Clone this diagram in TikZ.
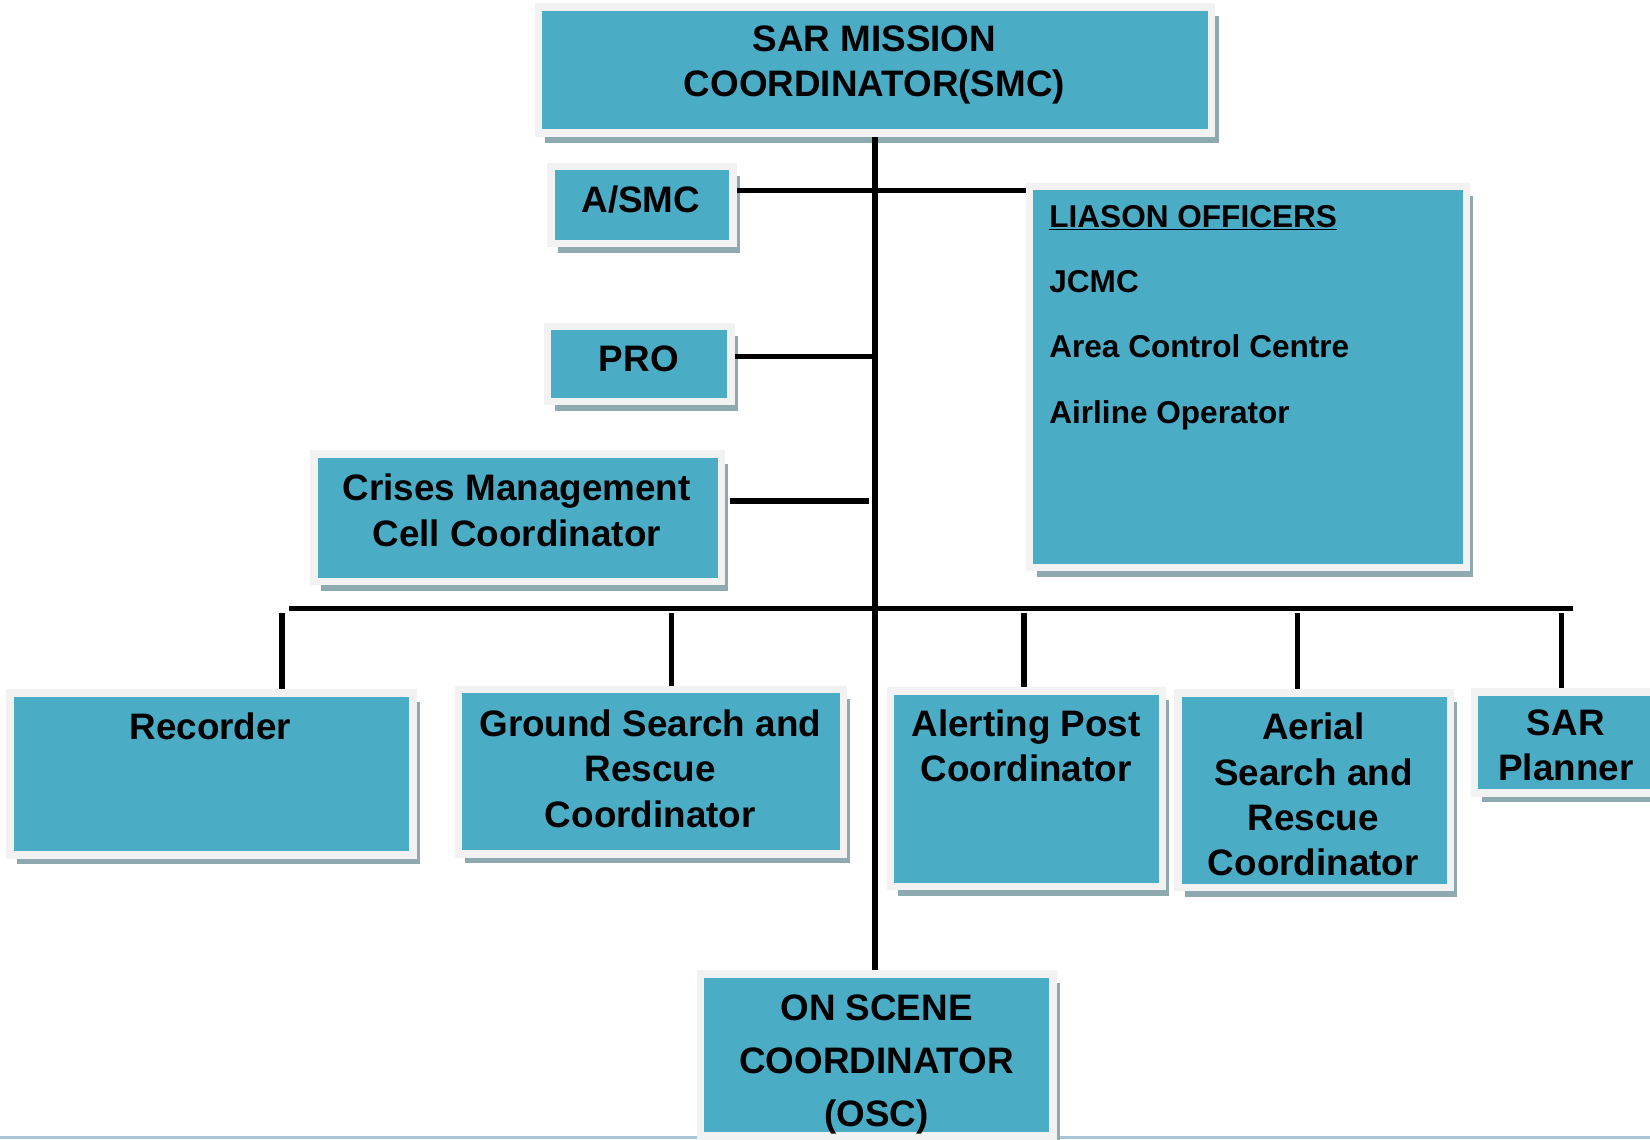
\documentclass[tikz,border=0pt]{standalone}
\usepackage{fontspec}
\setmainfont{Liberation Sans}
\usetikzlibrary{shadows}
\definecolor{bleu}{HTML}{4BACC6}
\definecolor{bord}{HTML}{F2F2F2}
\definecolor{ombre}{HTML}{8FA9B0}
\definecolor{filet}{HTML}{A9C4D6}
\begin{document}
\begin{tikzpicture}[x=1pt,y=1pt]
	\tikzstyle{boite}=[rectangle,fill=bleu,draw=bord,line width=7pt,outer sep=3.5pt,inner sep=0pt,drop shadow={shadow xshift=6.5pt,shadow yshift=-9pt,fill=ombre,opacity=1}]
	\tikzstyle{texte}=[font=\fontsize{35}{43}\selectfont\bfseries,align=center,anchor=north,inner sep=0pt]
	\tikzstyle{trait}=[line width=5pt,black]
	\clip (0,0) rectangle (1568,-1083);
	\useasboundingbox (0,0) rectangle (1568,-1083);
	\draw[filet,line width=2pt] (0,-1081) -- (1568,-1081);
	\node[boite,minimum width=640pt,minimum height=120pt] (smc) at (831.5,-66.5){};
	\node[boite,minimum width=173pt,minimum height=73pt] (asmc) at (610,-195){};
	\node[boite,minimum width=174pt,minimum height=71pt] (pro) at (607.5,-346){};
	\node[boite,minimum width=387pt,minimum height=121pt] (cmc) at (492,-492){};
	\node[boite,minimum width=415pt,minimum height=362pt] (liason) at (1186,-358.5){};
	\node[boite,minimum width=383pt,minimum height=154pt] (rec) at (201,-735.5){};
	\node[boite,minimum width=366pt,minimum height=156pt] (gsr) at (618.5,-733.5){};
	\node[boite,minimum width=258pt,minimum height=186pt] (apc) at (975.5,-749.5){};
	\node[boite,minimum width=259pt,minimum height=185pt] (asr) at (1249,-751){};
	\node[boite,minimum width=175pt,minimum height=96pt] (plan) at (1489,-705.5){};
	\node[boite,minimum width=335pt,minimum height=154pt] (osc) at (833,-1002.5){};
	\node[texte] (smc-t) at (831,-24.5){SAR MISSION\\COORDINATOR(SMC)};
	\node[texte] (asmc-t) at (609,-176.5){A/SMC};
	\node[texte] (pro-t) at (607,-328.5){PRO};
	\node[texte] (cmc-t) at (491,-450.5){Crises Management\\Cell Coordinator};
	\node[font=\fontsize{30}{62}\selectfont\bfseries,align=left,anchor=north west,inner sep=0pt] (liason-t) at (997,-195){\underline{LIASON OFFICERS}\\JCMC\\Area Control Centre\\Airline Operator};
	\node[texte] (rec-t) at (200,-677.5){Recorder};
	\node[texte] (gsr-t) at (618,-674.5){Ground Search and\\Rescue\\Coordinator};
	\node[texte] (apc-t) at (975,-674.5){Alerting Post\\Coordinator};
	\node[texte] (asr-t) at (1248,-677.5){Aerial\\Search and\\Rescue\\Coordinator};
	\node[texte] (plan-t) at (1488,-674.5){SAR\\Planner};
	\node[texte,font=\fontsize{35}{50}\selectfont\bfseries] (osc-t) at (833,-945.5){ON SCENE\\COORDINATOR\\(OSC)};
	\coordinate (bg) at (275,-578);
	\coordinate (bd) at (1495,-578);
	\draw[trait] (smc.south) -- (smc.south |- osc.north);
	\draw[trait] (asmc.east |- 0,-181) -- (liason.west |- 0,-181);
	\draw[trait] (pro.east |- 0,-339) -- (smc.south |- 0,-339);
	\draw[trait,shorten <=5pt,shorten >=6pt] (cmc.east |- 0,-476) -- (smc.south |- 0,-476);
	\draw[trait] (bg) -- (bd);
	\foreach \x/\b in {268/rec,638/gsr,973/apc,1233/asr,1484/plan}
		\draw[trait,shorten <=5pt] (bg -| \x,0) -- (\b.north -| \x,0);
\end{tikzpicture}
\end{document}
